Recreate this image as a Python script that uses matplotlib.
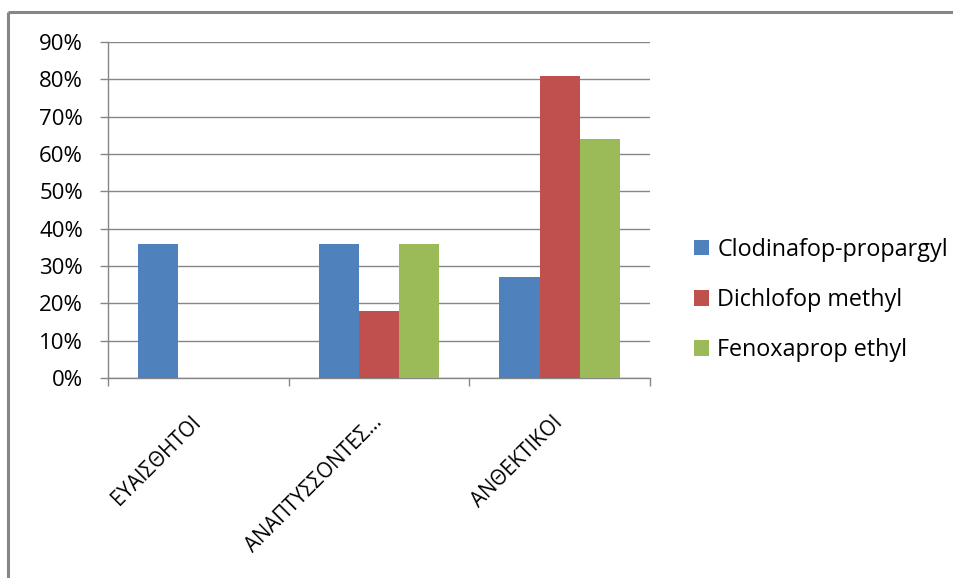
import numpy as np
import matplotlib
matplotlib.use("Agg")
import matplotlib.pyplot as plt
from matplotlib.lines import Line2D
from matplotlib.ticker import FuncFormatter

plt.rcParams['font.family'] = ['Open Sans', 'DejaVu Sans']

categories = ['ΕΥΑΙΣΘΗΤΟΙ', 'ΑΝΑΠΤΥΣΣΟΝΤΕΣ…', 'ΑΝΘΕΚΤΙΚΟΙ']
series_names = ['Clodinafop-propargyl', 'Dichlofop methyl', 'Fenoxaprop ethyl']
clodinafop = [0.36, 0.36, 0.27]
dichlofop = [0.0, 0.18, 0.81]
fenoxaprop = [0.0, 0.36, 0.64]
colors = ['#4F81BD', '#C0504D', '#9BBB59']

fig = plt.figure(figsize=(9.54, 5.78), dpi=100)
ax = fig.add_axes([108/954, 1-378/578, (650-108)/954, (378-42)/578])

x = np.arange(len(categories)) + 0.5
w = 1/4.5
for i, (vals, name) in enumerate(zip([clodinafop, dichlofop, fenoxaprop], series_names)):
    ax.bar(x + (i-1)*w, vals, width=w, color=colors[i], label=name, zorder=3)

ax.set_xlim(0, 3)
ax.set_ylim(0, 0.9)
ax.set_yticks(np.arange(0, 0.91, 0.1))
ax.yaxis.set_major_formatter(FuncFormatter(lambda v, p: f'{v*100:.0f}%'))
ax.grid(axis='y', color='#868686', linewidth=1, zorder=0)

ax.set_xticks([0, 1, 2, 3])
ax.set_xticklabels([])
ax.set_xticks(x, minor=True)
ax.set_xticklabels(categories, minor=True, rotation=45, ha='right', va='center',
                   rotation_mode='anchor', fontsize=14.8)
ax.tick_params(axis='x', which='minor', length=0, pad=30)
ax.tick_params(axis='x', which='major', length=6, color='#868686', width=1)
ax.tick_params(axis='y', length=6, color='#868686', width=1, labelsize=16, pad=12)

for s in ['top', 'right']:
    ax.spines[s].set_visible(False)
for s in ['left', 'bottom']:
    ax.spines[s].set_color('#868686')
    ax.spines[s].set_linewidth(1)

ax.legend(loc='center left', bbox_to_anchor=(673/954, 1-300/578),
          bbox_transform=fig.transFigure, frameon=False, fontsize=16.8,
          handlelength=0.65, handleheight=0.65, handletextpad=0.35, labelspacing=1.12)

# outer chart frame (only left and top edges fall inside the picture)
fx, fy = 8/954, 1-12/578
fig.add_artist(Line2D([fx, 1.0], [fy, fy], transform=fig.transFigure,
                      color='#868686', linewidth=2.2, solid_capstyle='butt'))
fig.add_artist(Line2D([fx, fx], [fy, 0.0], transform=fig.transFigure,
                      color='#868686', linewidth=2.2, solid_capstyle='butt'))

fig.savefig('out.png', dpi=100)
